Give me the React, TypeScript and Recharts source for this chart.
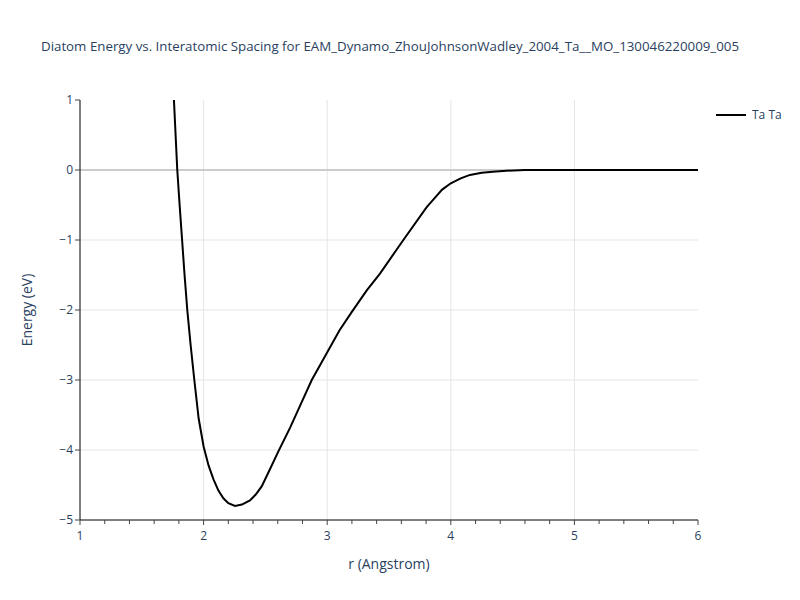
import React from 'react';
import { LineChart, Line, XAxis, YAxis, CartesianGrid, ReferenceLine } from 'recharts';

// Diatom energy curve (Ta-Ta)
const rValues = [
  1.747, 1.76, 1.787, 1.806, 1.826, 1.846, 1.868, 1.895, 1.925, 1.96, 2.0, 2.04, 2.08, 2.12,
  2.16, 2.2, 2.254, 2.31, 2.375, 2.42, 2.47, 2.53, 2.605, 2.7, 2.79, 2.875, 2.97, 3.1, 3.198,
  3.32, 3.427, 3.616, 3.805, 3.86, 3.93, 4.0, 4.08, 4.155, 4.25, 4.34, 4.45, 4.6, 5.0, 5.5, 6.0,
];
const energyValues = [
  1.5, 1.0, 0.0, -0.5, -1.0, -1.5, -2.0, -2.5, -3.0, -3.55, -3.95, -4.22, -4.42, -4.58,
  -4.69, -4.76, -4.8, -4.78, -4.72, -4.64, -4.52, -4.3, -4.02, -3.68, -3.33, -3.0, -2.7, -2.29, -2.03,
  -1.72, -1.48, -1.0, -0.53, -0.42, -0.28, -0.19, -0.12, -0.07, -0.04, -0.024, -0.01, 0, 0, 0, 0,
];
const xTicks = [
  1, 1.2, 1.4, 1.6, 1.8, 2, 2.2, 2.4, 2.6, 2.8, 3, 3.2, 3.4, 3.6, 3.8, 4, 4.2, 4.4, 4.6, 4.8,
  5, 5.2, 5.4, 5.6, 5.8, 6,
];
const yTicks = [-5, -4, -3, -2, -1, 0, 1];
const seriesName = 'Ta Ta';
const title = 'Diatom Energy vs. Interatomic Spacing for EAM_Dynamo_ZhouJohnsonWadley_2004_Ta__MO_130046220009_005';

const data = rValues.map((r, i) => ({ r, energy: energyValues[i] }));

const FONT = '"Open Sans", verdana, arial, sans-serif';
const TEXT = '#2a3f5f';

const fmtMinus = (v: number) => String(v).replace('-', '\u2212');

// major ticks get a label, minor ones only a short mark
const XTick = (props: any) => {
  const { x, y, payload } = props;
  const v = payload.value;
  const major = Math.abs(v - Math.round(v)) < 1e-6;
  return (
    <g>
      <line x1={x} x2={x} y1={y} y2={y + (major ? 5 : 4)} stroke="#444" strokeWidth={1} />
      {major && (
        <text x={x} y={y + 20} textAnchor="middle" fill={TEXT} fontSize={12} fontFamily={FONT}>
          {v}
        </text>
      )}
    </g>
  );
};

export default function App() {
  return (
    <div style={{ position: 'absolute', left: 0, top: 0, width: 800, height: 600, background: '#fff', fontFamily: FONT }}>
      <div style={{ position: 'absolute', left: 0, width: 780, top: 37, textAlign: 'center', fontSize: 13.3, color: TEXT }}>
        {title}
      </div>
      <LineChart width={800} height={600} data={data} margin={{ top: 100, right: 102, bottom: 40, left: 20 }}>
        <CartesianGrid
          stroke="#e5e5e5"
          strokeWidth={1}
          verticalValues={[2, 3, 4, 5]}
          horizontalValues={[-4, -3, -2, -1]}
        />
        <ReferenceLine y={0} stroke="#cccccc" strokeWidth={2} />
        <XAxis
          dataKey="r"
          type="number"
          domain={[1, 6]}
          ticks={xTicks}
          interval={0}
          tickSize={0}
          tickMargin={0}
          height={40}
          axisLine={{ stroke: '#000', strokeWidth: 1 }}
          tickLine={false}
          tick={<XTick />}
          allowDataOverflow
          label={{ value: 'r (Angstrom)', position: 'insideBottom', offset: -9, fill: TEXT, fontSize: 14, fontFamily: FONT }}
        />
        <YAxis
          type="number"
          domain={[-5, 1]}
          ticks={yTicks}
          tickSize={5}
          width={60}
          allowDataOverflow
          tickFormatter={fmtMinus}
          axisLine={{ stroke: '#000', strokeWidth: 1 }}
          tickLine={{ stroke: '#444' }}
          tick={{ fill: TEXT, fontSize: 12, fontFamily: FONT }}
          label={{ value: 'Energy (eV)', angle: -90, position: 'insideLeft', offset: 7, fill: TEXT, fontSize: 14, fontFamily: FONT, style: { textAnchor: 'middle' } }}
        />
        <Line
          dataKey="energy"
          stroke="#000"
          strokeWidth={2}
          dot={false}
          type="linear"
          isAnimationActive={false}
        />
      </LineChart>
      <div style={{ position: 'absolute', left: 716, top: 106, display: 'flex', alignItems: 'center', fontSize: 12, color: TEXT }}>
        <div style={{ width: 30, height: 2, background: '#000', marginRight: 6 }} />
        <span>{seriesName}</span>
      </div>
    </div>
  );
}
